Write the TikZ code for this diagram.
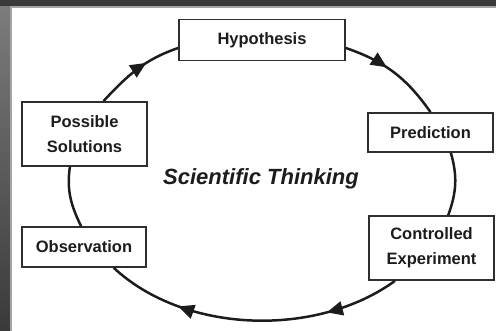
\documentclass[tikz,border=0pt]{standalone}
\usepackage{fontspec}
\setmainfont{Liberation Sans}
\usepackage{tikz}
\usetikzlibrary{arrows.meta, decorations.markings}
\definecolor{InkGray}{HTML}{1C1C1C}
\definecolor{BoxLine}{HTML}{2E2E2E}
\definecolor{FrameDark}{HTML}{3A3A3A}
\definecolor{FrameLight}{HTML}{7C7C7C}
\definecolor{FrameEdge}{HTML}{A5A5A5}

\begin{document}
\begin{tikzpicture}[
    x=1pt, y=1pt,
    stage/.style={rectangle, draw=BoxLine, line width=1.7pt, fill=white,
                  text=InkGray, font=\fontsize{16.5}{25}\selectfont\bfseries,
                  align=center, inner sep=0pt},
    loopline/.style={line width=2.5pt, draw=InkGray},
    flowmark/.style={postaction={decorate, decoration={markings,
        mark=at position #1 with {\arrow{Triangle[length=16pt, width=14pt]}}}}}
]
    \useasboundingbox (0,0) rectangle (496,331);

    % Dark frame at the top and left
    \fill[FrameDark] (0,324) rectangle (496,331);
    \shade[top color=FrameLight, bottom color=FrameDark] (0,0) rectangle (10,324);
    \fill[FrameEdge] (10,0) rectangle (11.5,324);
    \fill[FrameEdge] (10,323) rectangle (496,324.5);

    % Stages of the cycle
    \node[stage, minimum width=166pt, minimum height=41pt] (hyp) at (262,291) {Hypothesis};
    \node[stage, minimum width=125pt, minimum height=39pt] (pred) at (430.5,198.5) {Prediction};
    \node[stage, minimum width=125pt, minimum height=64pt] (exp) at (431.5,83) {Controlled\\Experiment};
    \node[stage, minimum width=124pt, minimum height=40pt] (obs) at (84,84) {Observation};
    \node[stage, minimum width=125pt, minimum height=64pt] (sol) at (84.5,197) {Possible\\Solutions};

    \node[text=InkGray, font=\fontsize{22}{26}\selectfont\bfseries\itshape] (title) at (261,152) {Scientific Thinking};

    % Clockwise loop
    \draw[loopline, flowmark=0.62] (sol.60) to[out=47, in=199] ([yshift=-8pt]hyp.west);
    \draw[loopline, flowmark=0.42] ([yshift=-8pt]hyp.east) to[out=-19, in=125] (pred.north);
    \draw[loopline] (pred.-45) to[out=-74, in=70] (exp.63);
    \draw[loopline, flowmark=0.25, flowmark=0.75] (exp.222) to[out=216, in=-43, looseness=0.88] (obs.-35);
    \draw[loopline] (obs.98) to[out=116, in=262] (sol.246);
\end{tikzpicture}
\end{document}
